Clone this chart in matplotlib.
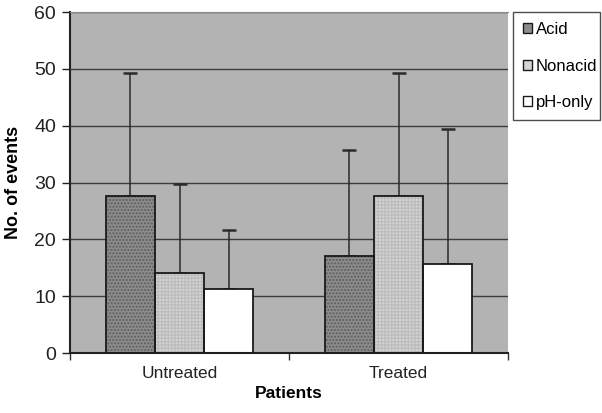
import numpy as np
import matplotlib.pyplot as plt
from matplotlib.patches import Patch

plt.rcParams['font.family'] = ['Liberation Sans', 'DejaVu Sans']

groups = ['Untreated', 'Treated']
series = ['Acid', 'Nonacid', 'pH-only']
means = {'Acid': [27.7, 17.0], 'Nonacid': [14.0, 27.7], 'pH-only': [11.3, 15.7]}
sds = {'Acid': [21.6, 18.7], 'Nonacid': [15.7, 21.6], 'pH-only': [10.3, 23.7]}

fills = {'Acid': '#8c8c8c', 'Nonacid': '#d6d6d6', 'pH-only': '#ffffff'}
hatches = {'Acid': '.....', 'Nonacid': '+++++', 'pH-only': None}
hatch_cols = {'Acid': '#5e5e5e', 'Nonacid': '#bdbdbd', 'pH-only': '#ffffff'}

fig = plt.figure(figsize=(6.02, 4.13), dpi=100)
ax = fig.add_axes([70 / 602, 60 / 413, 438 / 602, 341 / 413])
ax.set_facecolor('#b3b3b3')

x = np.arange(len(groups))
w = 0.224
for i, s in enumerate(series):
    xpos = x + (i - 1) * w
    # fill + hatch layer, then outline
    ax.bar(xpos, means[s], w, color=fills[s], hatch=hatches[s],
           edgecolor=hatch_cols[s], linewidth=0, zorder=2)
    ax.bar(xpos, means[s], w, fill=False, edgecolor='#1a1a1a', linewidth=1.3, zorder=3)
    ax.errorbar(xpos, means[s], yerr=[np.zeros(len(groups)), sds[s]], fmt='none',
                ecolor='#2a2a2a', elinewidth=1.1, capsize=5, capthick=1.8, zorder=1)

ax.set_ylim(0, 60)
ax.set_xlim(-0.5, 1.5)
ax.set_yticks(np.arange(0, 61, 10))
ax.yaxis.grid(True, color='#3c3c3c', linewidth=1.0)
ax.set_axisbelow(True)

ax.set_xticks([-0.5, 0.5, 1.5])
ax.set_xticklabels([])
ax.set_xticks(x, minor=True)
ax.set_xticklabels(groups, minor=True)
ax.tick_params(axis='x', which='minor', length=0, pad=9, labelsize=12.5, colors='#222222')
ax.tick_params(axis='x', which='major', length=5, width=1, color='#333333')
ax.tick_params(axis='y', length=6, width=1, pad=4, labelsize=14, colors='#222222')

ax.spines['right'].set_visible(False)
ax.spines['top'].set_color('#8a8a8a')
ax.spines['top'].set_linewidth(0.8)
ax.spines['left'].set_color('#222222')
ax.spines['left'].set_linewidth(1.5)
ax.spines['bottom'].set_color('#222222')
ax.spines['bottom'].set_linewidth(1.5)

ax.set_ylabel('No. of events', fontsize=13, fontweight='bold', labelpad=9)
ax.set_xlabel('Patients', fontsize=12.5, fontweight='bold', labelpad=4)

handles = [Patch(facecolor=fills[s], edgecolor='#1a1a1a', hatch=None) for s in series]
leg = fig.legend(handles, series, loc='upper left',
                 bbox_to_anchor=(513 / 602, 1 - 12 / 413, 87 / 602, 0.0001), mode='expand',
                 fontsize=12, frameon=True, fancybox=False, handlelength=0.55,
                 handleheight=0.55, handletextpad=0.2, labelspacing=1.3, borderpad=0.6,
                 borderaxespad=0)
leg.get_frame().set_edgecolor('#222222')
leg.get_frame().set_linewidth(1.0)

plt.savefig('out.png', dpi=100)
